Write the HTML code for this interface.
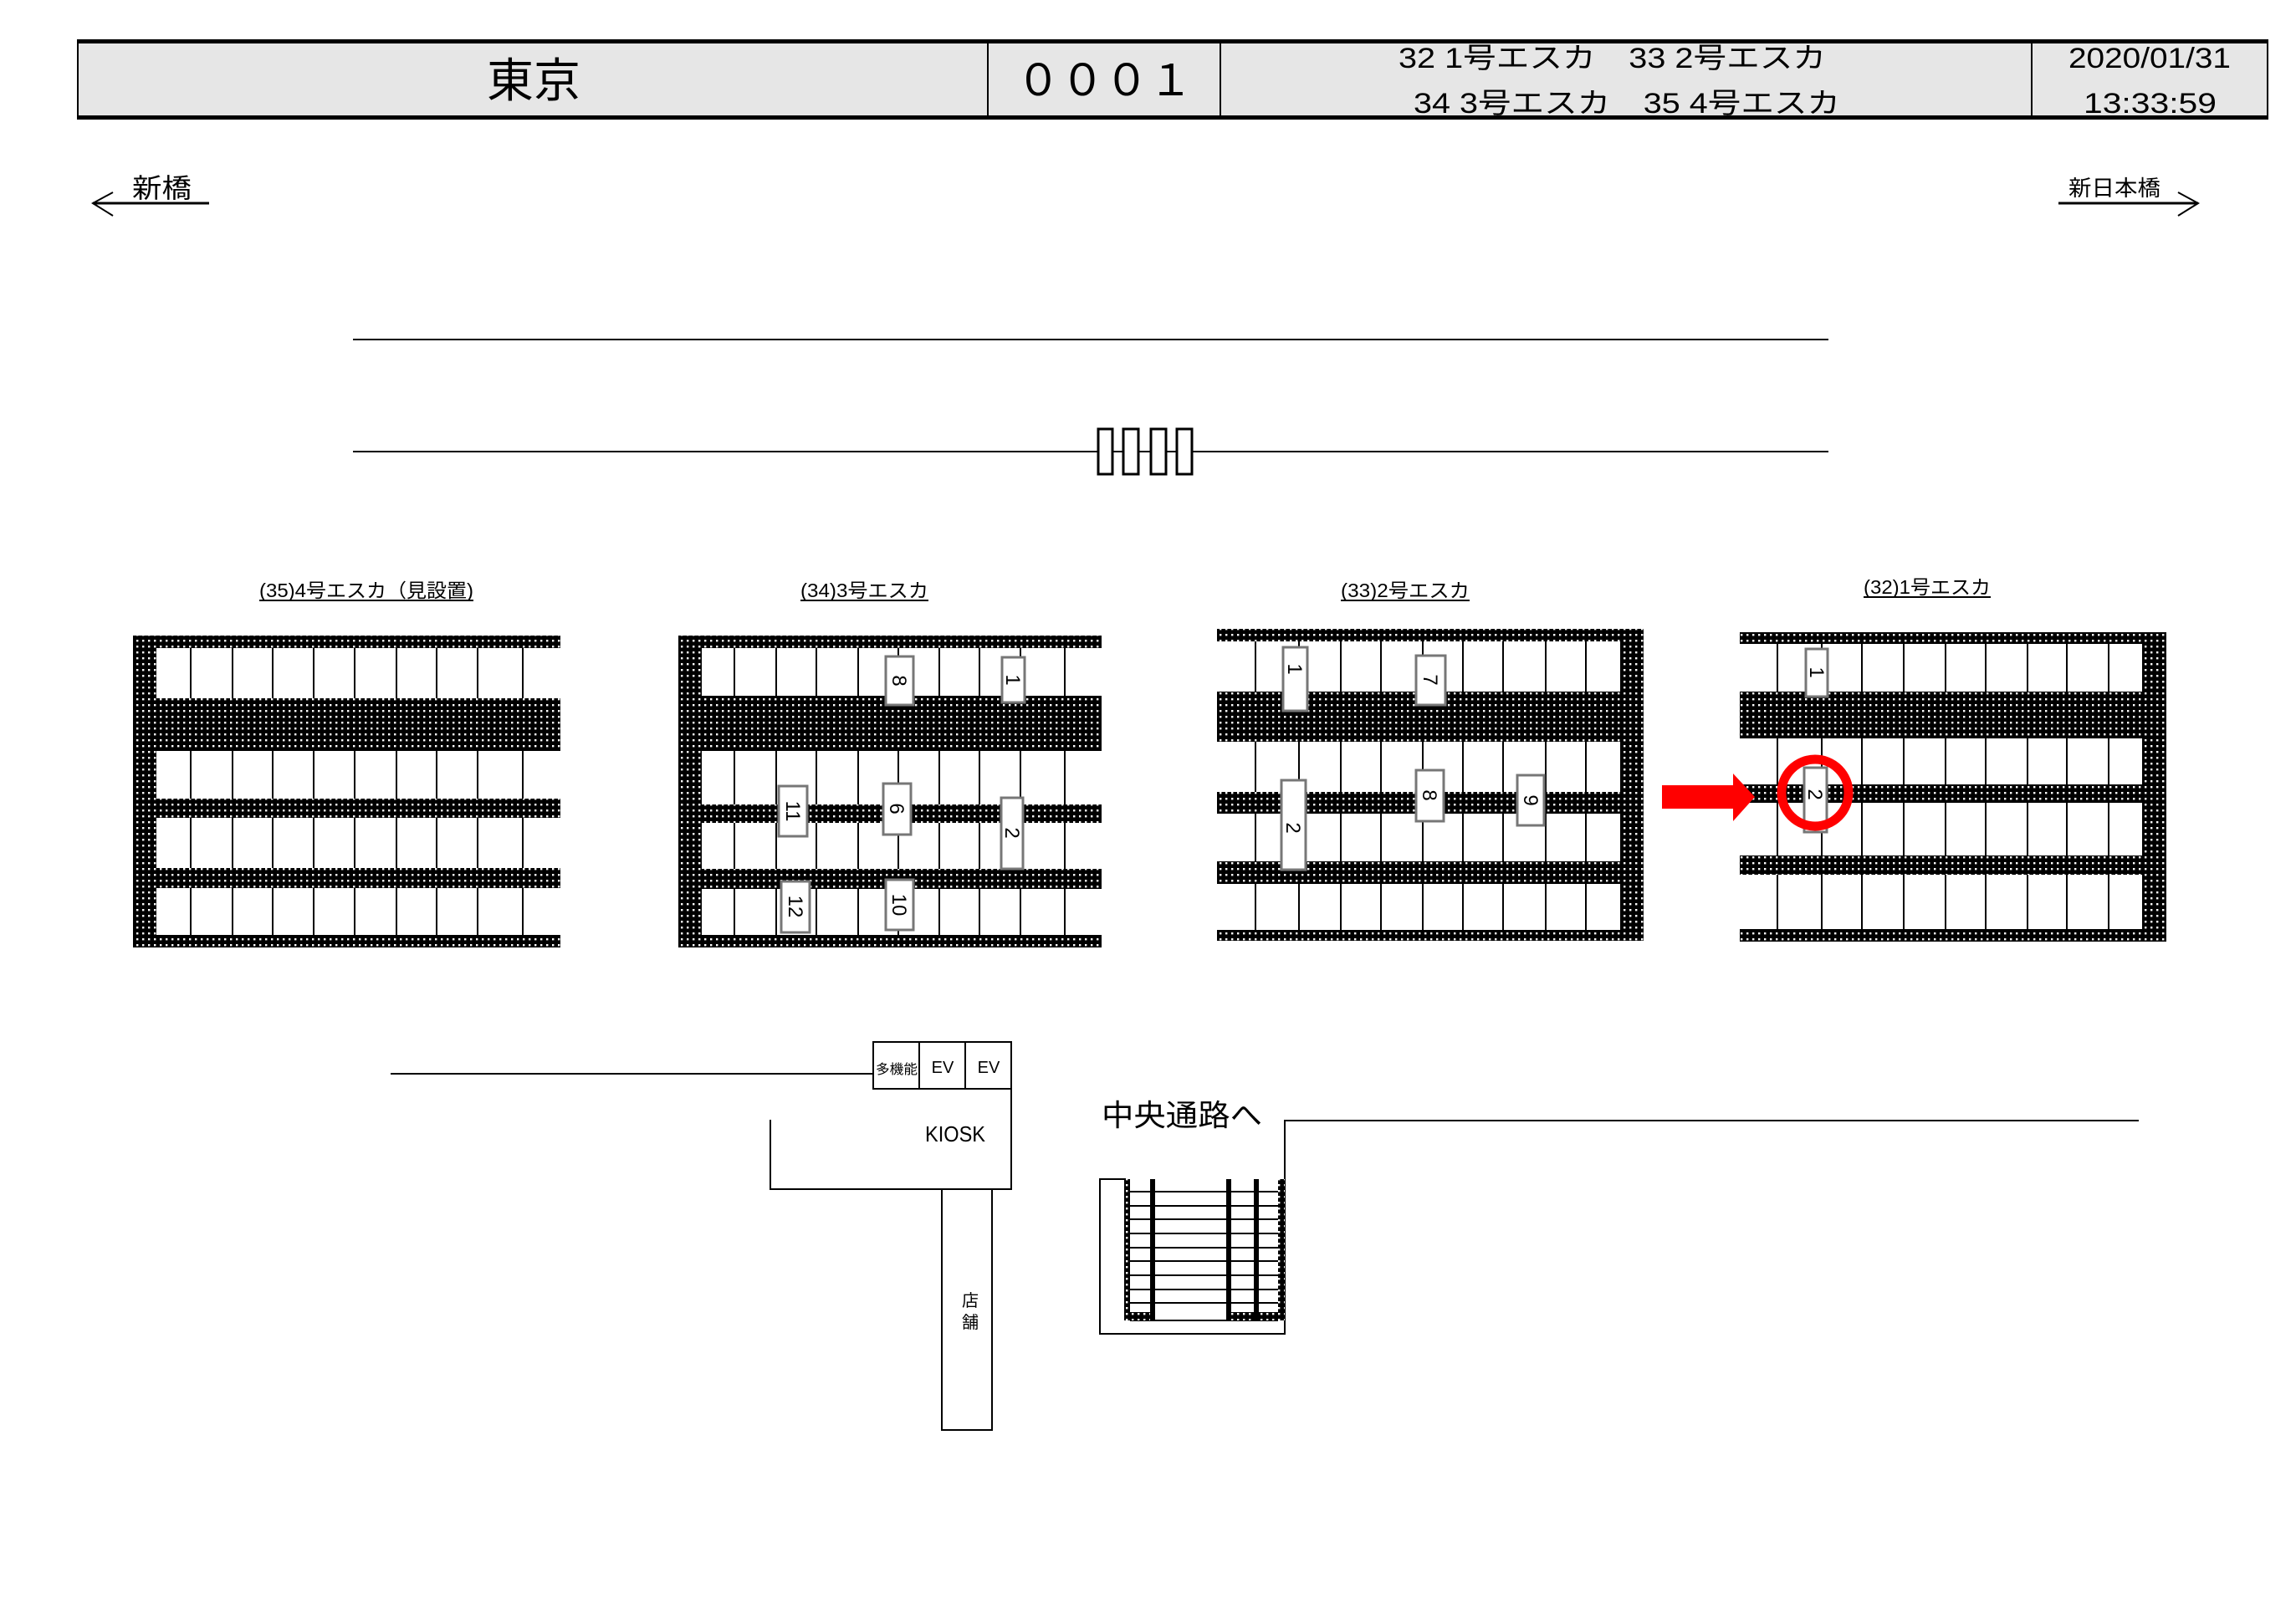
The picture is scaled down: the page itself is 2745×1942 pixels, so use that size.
<!DOCTYPE html>
<html><head><meta charset="utf-8"><style>
html,body{margin:0;padding:0;background:#fff}
svg{display:block}
text{font-family:"Liberation Sans","Noto Sans CJK JP",sans-serif;fill:#000}
</style></head><body>
<svg width="2745" height="1942" viewBox="0 0 2745 1942" xmlns="http://www.w3.org/2000/svg">
<defs>
<pattern id="dot" width="7" height="7" patternUnits="userSpaceOnUse">
<rect width="7" height="7" fill="#000"/>
<rect x="2" y="2" width="2.4" height="2.4" fill="#fff"/>
</pattern>
</defs>

<rect x="93" y="48" width="2618" height="94" fill="#e6e6e6" stroke="#000" stroke-width="2"/>
<line x1="93" y1="50" x2="2711" y2="50" stroke="#000" stroke-width="4"/>
<line x1="93" y1="140" x2="2711" y2="140" stroke="#000" stroke-width="4"/>
<line x1="1181" y1="48" x2="1181" y2="142" stroke="#000" stroke-width="2"/>
<line x1="1459" y1="48" x2="1459" y2="142" stroke="#000" stroke-width="2"/>
<line x1="2429" y1="48" x2="2429" y2="142" stroke="#000" stroke-width="2"/>
<text x="582" y="116" font-size="56" textLength="112" lengthAdjust="spacingAndGlyphs">東京</text>
<text x="1215" y="114" font-size="52" textLength="211" lengthAdjust="spacingAndGlyphs">０００１</text>
<text x="1672" y="81" font-size="34" textLength="511" lengthAdjust="spacingAndGlyphs">32 1号エスカ　33 2号エスカ</text>
<text x="1690" y="135" font-size="34" textLength="510" lengthAdjust="spacingAndGlyphs">34 3号エスカ　35 4号エスカ</text>
<text x="2473" y="81" font-size="34" textLength="194" lengthAdjust="spacingAndGlyphs">2020/01/31</text>
<text x="2491" y="135" font-size="34" textLength="159" lengthAdjust="spacingAndGlyphs">13:33:59</text>

<text x="158" y="236" font-size="32" textLength="71" lengthAdjust="spacingAndGlyphs">新橋</text>
<line x1="111" y1="243" x2="250" y2="243" stroke="#000" stroke-width="3"/>
<polyline points="135,230 111,243 135,258" fill="none" stroke="#000" stroke-width="2"/>
<text x="2473" y="234" font-size="26" textLength="110" lengthAdjust="spacingAndGlyphs">新日本橋</text>
<line x1="2461" y1="243" x2="2628" y2="243" stroke="#000" stroke-width="3"/>
<polyline points="2604,230 2628,243 2604,258" fill="none" stroke="#000" stroke-width="2"/>

<line x1="422" y1="406" x2="2186" y2="406" stroke="#000" stroke-width="2"/>
<line x1="422" y1="540" x2="2186" y2="540" stroke="#000" stroke-width="2"/>
<g fill="#fff" stroke="#000" stroke-width="3">
<rect x="1313" y="513" width="17" height="54"/>
<rect x="1343" y="513" width="18" height="54"/>
<rect x="1376" y="513" width="18" height="54"/>
<rect x="1407" y="513" width="18" height="54"/>
</g>

<g font-size="23">
<text x="310" y="714" textLength="256" lengthAdjust="spacingAndGlyphs">(35)4号エスカ（見設置)</text>
<text x="957" y="714" textLength="153" lengthAdjust="spacingAndGlyphs">(34)3号エスカ</text>
<text x="1603" y="714" textLength="154" lengthAdjust="spacingAndGlyphs">(33)2号エスカ</text>
<text x="2228" y="710" textLength="152" lengthAdjust="spacingAndGlyphs">(32)1号エスカ</text>
</g>
<g stroke="#000" stroke-width="2">
<line x1="310" y1="718" x2="566" y2="718"/>
<line x1="957" y1="718" x2="1110" y2="718"/>
<line x1="1603" y1="718" x2="1757" y2="718"/>
<line x1="2228" y1="714" x2="2380" y2="714"/>
</g>

<g stroke="#000" stroke-width="2">
<line x1="228" y1="760" x2="228" y2="1133"/><line x1="278" y1="760" x2="278" y2="1133"/><line x1="326" y1="760" x2="326" y2="1133"/><line x1="375" y1="760" x2="375" y2="1133"/><line x1="424" y1="760" x2="424" y2="1133"/><line x1="474" y1="760" x2="474" y2="1133"/><line x1="522" y1="760" x2="522" y2="1133"/><line x1="571" y1="760" x2="571" y2="1133"/><line x1="625" y1="760" x2="625" y2="1133"/>
</g>
<g fill="url(#dot)">
<rect x="159" y="760" width="28" height="373"/>
<rect x="159" y="760" width="511" height="15"/>
<rect x="159" y="835" width="511" height="63"/>
<rect x="159" y="955" width="511" height="23"/>
<rect x="159" y="1038" width="511" height="24"/>
<rect x="159" y="1118" width="511" height="15"/>
</g>

<g stroke="#000" stroke-width="2">
<line x1="878" y1="760" x2="878" y2="1133"/><line x1="928" y1="760" x2="928" y2="1133"/><line x1="976" y1="760" x2="976" y2="1133"/><line x1="1026" y1="760" x2="1026" y2="1133"/><line x1="1074" y1="760" x2="1074" y2="1133"/><line x1="1123" y1="760" x2="1123" y2="1133"/><line x1="1171" y1="760" x2="1171" y2="1133"/><line x1="1220" y1="760" x2="1220" y2="1133"/><line x1="1273" y1="760" x2="1273" y2="1133"/>
</g>
<g fill="url(#dot)">
<rect x="811" y="760" width="28" height="373"/>
<rect x="811" y="760" width="506" height="15"/>
<rect x="811" y="832" width="506" height="66"/>
<rect x="811" y="962" width="506" height="22"/>
<rect x="811" y="1039" width="506" height="24"/>
<rect x="811" y="1118" width="506" height="15"/>
</g>

<g stroke="#000" stroke-width="2">
<line x1="1501" y1="752" x2="1501" y2="1125"/><line x1="1553" y1="752" x2="1553" y2="1125"/><line x1="1603" y1="752" x2="1603" y2="1125"/><line x1="1651" y1="752" x2="1651" y2="1125"/><line x1="1701" y1="752" x2="1701" y2="1125"/><line x1="1749" y1="752" x2="1749" y2="1125"/><line x1="1797" y1="752" x2="1797" y2="1125"/><line x1="1848" y1="752" x2="1848" y2="1125"/><line x1="1896" y1="752" x2="1896" y2="1125"/>
</g>
<g fill="url(#dot)">
<rect x="1937" y="752" width="28" height="373"/>
<rect x="1455" y="752" width="510" height="15"/>
<rect x="1455" y="827" width="510" height="60"/>
<rect x="1455" y="947" width="510" height="26"/>
<rect x="1455" y="1030" width="510" height="27"/>
<rect x="1455" y="1112" width="510" height="13"/>
</g>

<g stroke="#000" stroke-width="2">
<line x1="2125" y1="756" x2="2125" y2="1126"/><line x1="2178" y1="756" x2="2178" y2="1126"/><line x1="2226" y1="756" x2="2226" y2="1126"/><line x1="2276" y1="756" x2="2276" y2="1126"/><line x1="2326" y1="756" x2="2326" y2="1126"/><line x1="2374" y1="756" x2="2374" y2="1126"/><line x1="2424" y1="756" x2="2424" y2="1126"/><line x1="2471" y1="756" x2="2471" y2="1126"/><line x1="2521" y1="756" x2="2521" y2="1126"/>
</g>
<g fill="url(#dot)">
<rect x="2561" y="756" width="29" height="370"/>
<rect x="2080" y="756" width="510" height="14"/>
<rect x="2080" y="827" width="510" height="56"/>
<rect x="2080" y="938" width="510" height="22"/>
<rect x="2080" y="1023" width="510" height="23"/>
<rect x="2080" y="1111" width="510" height="15"/>
</g>

<g fill="#fff" stroke="#777" stroke-width="3">
<rect x="1059" y="785" width="33" height="58"/>
<rect x="1198" y="786" width="27" height="54"/>
<rect x="931" y="940" width="34" height="60"/>
<rect x="1056" y="937" width="33" height="61"/>
<rect x="1197" y="954" width="26" height="85"/>
<rect x="934" y="1054" width="34" height="61"/>
<rect x="1059" y="1052" width="33" height="60"/>
<rect x="1534" y="774" width="29" height="76"/>
<rect x="1693" y="784" width="35" height="59"/>
<rect x="1532" y="933" width="29" height="107"/>
<rect x="1693" y="921" width="33" height="61"/>
<rect x="1814" y="927" width="32" height="60"/>
<rect x="2159" y="776" width="26" height="57"/>
<rect x="2157" y="918" width="27" height="77"/>
</g>
<g font-size="24" text-anchor="middle">
<text transform="translate(1075,814) rotate(90)" dy="8">8</text>
<text transform="translate(1211,813) rotate(90)" dy="8">1</text>
<text transform="translate(948,970) rotate(90)" dy="8">11</text>
<text transform="translate(1072,967) rotate(90)" dy="8">6</text>
<text transform="translate(1210,996) rotate(90)" dy="8">2</text>
<text transform="translate(951,1084) rotate(90)" dy="8">12</text>
<text transform="translate(1075,1082) rotate(90)" dy="8">10</text>
<text transform="translate(1548,800) rotate(90)" dy="8">1</text>
<text transform="translate(1710,813) rotate(90)" dy="8">7</text>
<text transform="translate(1546,990) rotate(90)" dy="8">2</text>
<text transform="translate(1709,951) rotate(90)" dy="8">8</text>
<text transform="translate(1830,957) rotate(90)" dy="8">9</text>
<text transform="translate(2172,804) rotate(90)" dy="8">1</text>
<text transform="translate(2170,950) rotate(90)" dy="8">2</text>
</g>

<polygon points="1987,939 2072,939 2072,925 2098,953 2072,982 2072,967 1987,967" fill="#f00"/>
<circle cx="2170" cy="948" r="40" fill="none" stroke="#f00" stroke-width="11"/>

<g stroke="#000" stroke-width="2" fill="none">
<line x1="467" y1="1284" x2="1044" y2="1284"/>
<rect x="1044" y="1246" width="165" height="56"/>
<line x1="1099" y1="1246" x2="1099" y2="1302"/>
<line x1="1154" y1="1246" x2="1154" y2="1302"/>
<polyline points="921,1339 921,1422 1209,1422 1209,1302"/>
<rect x="1126" y="1422" width="60" height="288"/>
<polyline points="2557,1340 1536,1340 1536,1595 1315,1595 1315,1410 1346,1410"/>
<line x1="1351" y1="1579" x2="1528" y2="1579"/>
</g>
<g font-size="16"><text x="1047" y="1284" textLength="50" lengthAdjust="spacingAndGlyphs">多機能</text></g>
<g font-size="20" text-anchor="middle">
<text x="1127" y="1283">EV</text><text x="1182" y="1283">EV</text>
</g>
<text x="1106" y="1365" font-size="26" textLength="72" lengthAdjust="spacingAndGlyphs">KIOSK</text>
<g font-size="20" text-anchor="middle"><text x="1160" y="1562">店</text><text x="1160" y="1588">舗</text></g>
<text x="1317" y="1346" font-size="36" textLength="192" lengthAdjust="spacingAndGlyphs">中央通路へ</text>
<g stroke="#000" stroke-width="2">
<line x1="1351" y1="1425" x2="1528" y2="1425"/><line x1="1351" y1="1442" x2="1528" y2="1442"/><line x1="1351" y1="1458" x2="1528" y2="1458"/><line x1="1351" y1="1475" x2="1528" y2="1475"/><line x1="1351" y1="1492" x2="1528" y2="1492"/><line x1="1351" y1="1508" x2="1528" y2="1508"/><line x1="1351" y1="1525" x2="1528" y2="1525"/><line x1="1351" y1="1542" x2="1528" y2="1542"/><line x1="1351" y1="1558" x2="1528" y2="1558"/>
</g>
<g fill="url(#dot)">
<rect x="1344" y="1410" width="7" height="169"/>
<rect x="1528" y="1410" width="8" height="169"/>
<rect x="1346" y="1569" width="32" height="10"/>
<rect x="1469" y="1569" width="63" height="10"/>
</g>
<g fill="#000">
<rect x="1375" y="1410" width="6" height="169"/>
<rect x="1466" y="1410" width="6" height="169"/>
<rect x="1499" y="1410" width="6" height="169"/>
</g>
</svg>
</body></html>
